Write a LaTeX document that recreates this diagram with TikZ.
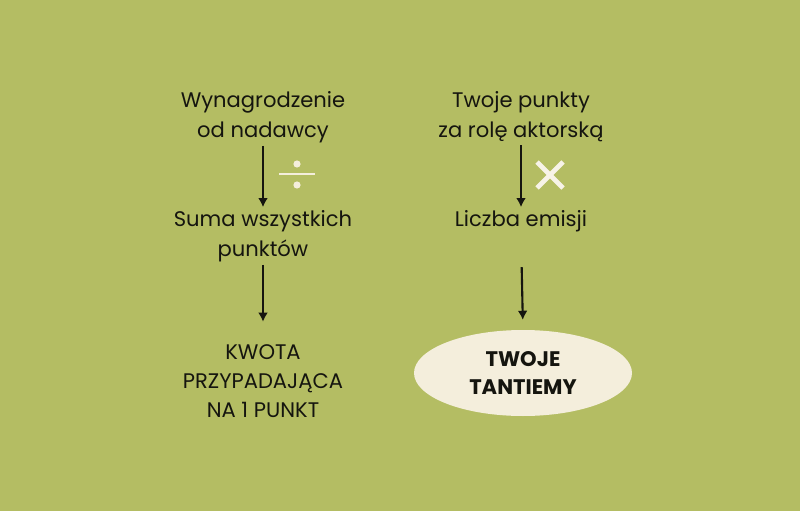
\documentclass[tikz,border=0pt]{standalone}
\usepackage{fontspec}
\setmainfont{Poppins}
\usetikzlibrary{arrows.meta,shapes.geometric}

\begin{document}
\begin{tikzpicture}
    \definecolor{bg}{HTML}{B4BD63}
    \definecolor{cream}{HTML}{F4EEDC}
    \definecolor{ink}{HTML}{15150F}

    \tikzset{
        label text/.style={align=center, text=ink, inner sep=2pt, font=\fontsize{15}{21.3}\selectfont},
        caps text/.style={align=center, text=ink, inner sep=2pt, font=\fontsize{15}{20.6}\selectfont},
        flow/.style={draw=ink, line width=1.5pt, -{Latex[length=6.5pt,width=7pt]}},
    }

    \fill[bg] (0,0) rectangle (20,12.775);

    % left column
    \node[label text] (wynagrodzenie) at (6.575,9.85) {Wynagrodzenie\\od nadawcy};
    \node[label text] (suma) at (6.575,6.875) {Suma wszystkich\\punktów};
    \node[caps text] (kwota) at (6.575,3.25) {KWOTA\\PRZYPADAJĄCA\\NA 1 PUNKT};

    % right column
    \node[label text] (punkty) at (13.025,9.85) {Twoje punkty\\za rolę aktorską};
    \node[label text] (emisje) at (13.025,7.25) {Liczba emisji};
    \node[ellipse, fill=cream, minimum width=5.45cm, minimum height=2.15cm, inner sep=0pt,
          caps text, font=\bfseries\fontsize{15}{20.6}\selectfont] (tantiemy) at (13.075,3.45) {TWOJE\\TANTIEMY};

    % operators
    \draw[cream, line width=1.5pt] (6.975,8.425) -- (7.875,8.425);
    \fill[cream] (7.425,8.675) circle (0.09) (7.425,8.15) circle (0.09);
    \draw[cream!70!white, line width=3.4pt] (13.425,8.725) -- (14.075,8.075) (13.425,8.075) -- (14.075,8.725);

    \draw[flow] (wynagrodzenie.south) -- (suma.north);
    \draw[flow, shorten >=14pt] (suma.south) -- (kwota.north);
    \draw[flow] (punkty.south) -- (emisje.north);
    \draw[flow, shorten <=23pt, shorten >=7pt] (emisje.south) -- (tantiemy.north);

\end{tikzpicture}
\end{document}
